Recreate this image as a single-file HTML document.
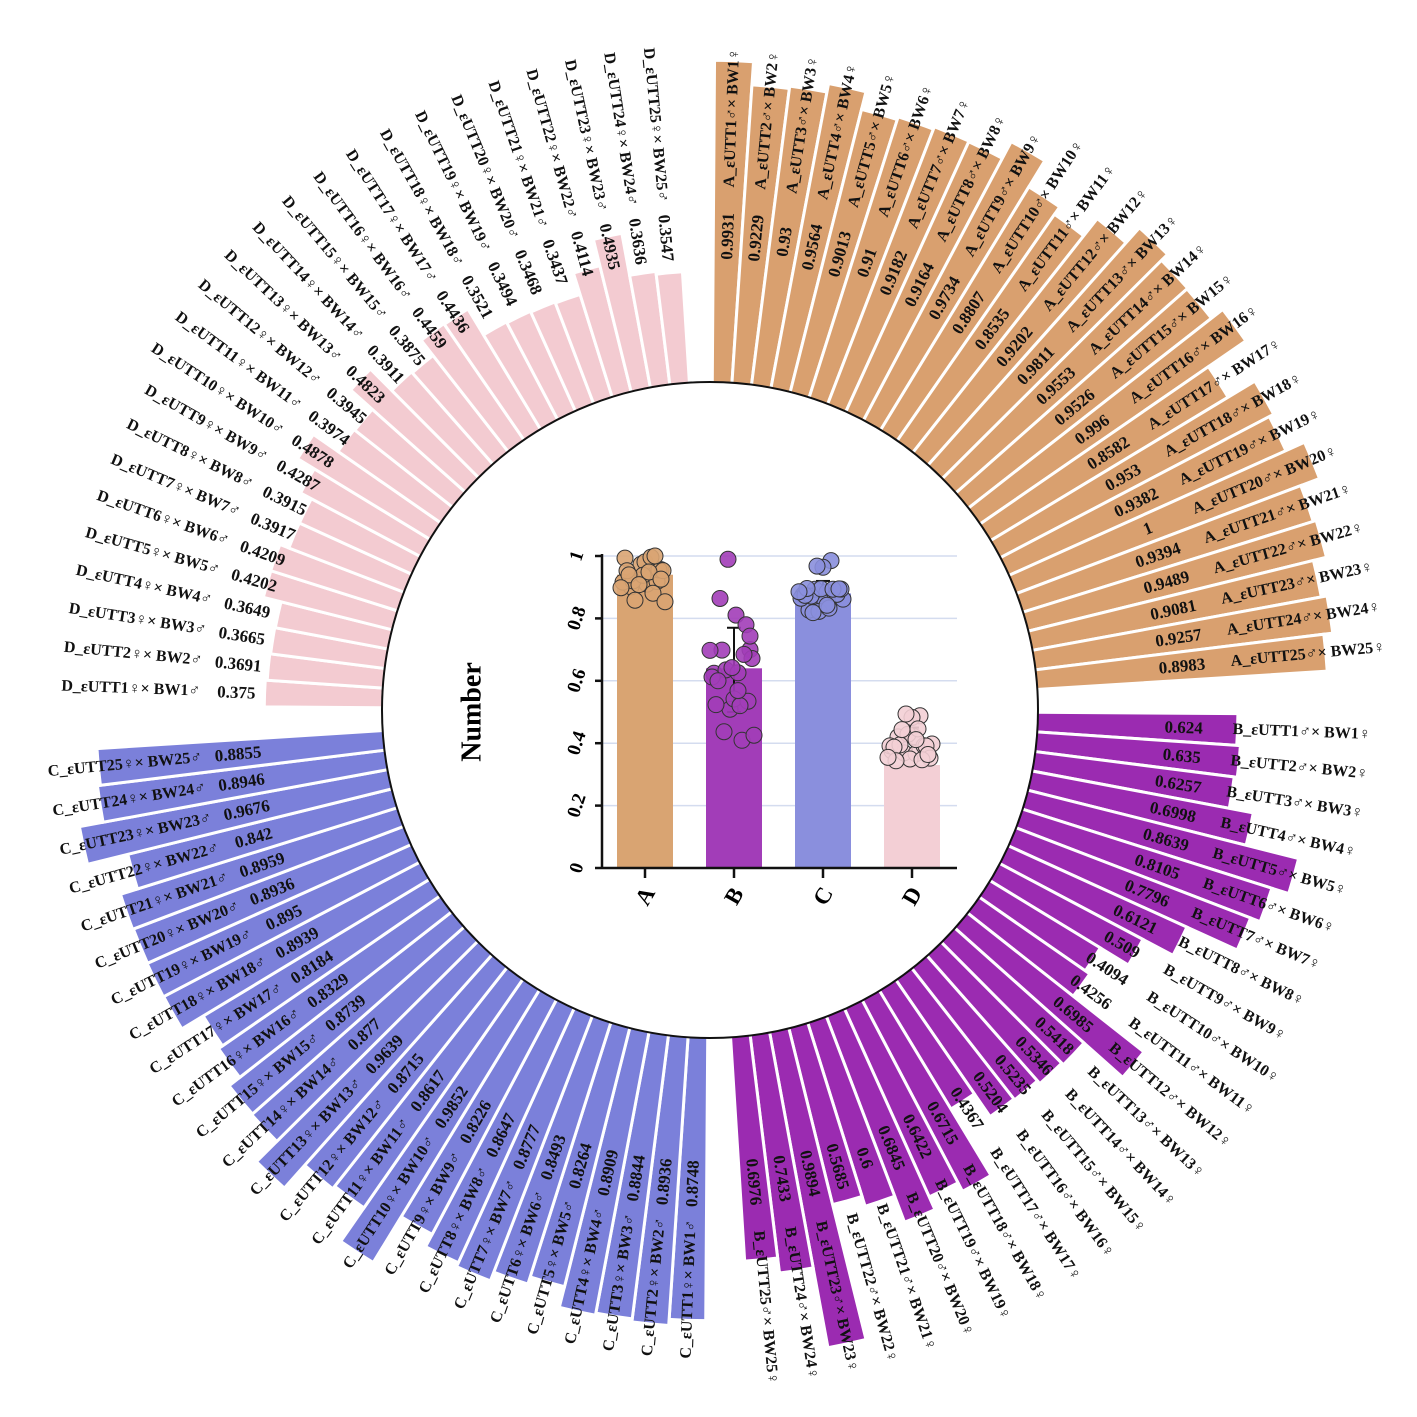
<!DOCTYPE html>
<html><head><meta charset="utf-8"><style>
html,body{margin:0;padding:0;background:#fff;}
svg{display:block;font-family:"Liberation Serif",serif;}
</style></head><body>
<svg id="chart" width="1417" height="1417" viewBox="0 0 1417 1417" xmlns="http://www.w3.org/2000/svg">
<g id="rings"></g>
<circle cx="710" cy="710" r="328" fill="#fff" stroke="#111" stroke-width="2"/>
<g id="inner"></g>
</svg>
<script>
const groups = ["A","B","C","D"];
const valuesA = [0.9931,0.9229,0.93,0.9564,0.9013,0.91,0.9182,0.9164,0.9734,0.8807,0.8535,0.9202,0.9811,0.9553,0.9526,0.996,0.8582,0.953,0.9382,1,0.9394,0.9489,0.9081,0.9257,0.8983];
const valuesB = [0.624,0.635,0.6257,0.6998,0.8639,0.8105,0.7796,0.6121,0.509,0.4094,0.4256,0.6985,0.5418,0.5346,0.5235,0.5204,0.4367,0.6715,0.6422,0.6845,0.6,0.5685,0.9894,0.7433,0.6976];
const valuesC = [0.8748,0.8936,0.8844,0.8909,0.8264,0.8493,0.8777,0.8647,0.8226,0.9852,0.8617,0.8715,0.9639,0.877,0.8739,0.8329,0.8184,0.8939,0.895,0.8936,0.8959,0.842,0.9676,0.8946,0.8855];
const valuesD = [0.375,0.3691,0.3665,0.3649,0.4202,0.4209,0.3917,0.3915,0.4287,0.4878,0.3974,0.3945,0.4823,0.3911,0.3875,0.4459,0.4436,0.3521,0.3494,0.3468,0.3437,0.4114,0.4935,0.3636,0.3547];
const groupMeans = [0.94,0.64,0.88,0.33];
const errLow = [0.92,0.50,0.84,0.36];
const errHigh = [0.97,0.77,0.92,0.45];
const yTicks = [0,0.2,0.4,0.6,0.8,1];
const yTickLabels = ["0","0.2","0.4","0.6","0.8","1"];

const NS="http://www.w3.org/2000/svg";
const CX=710, CY=710, R0=322, K=330;
const colors=["#D9A06F","#9B2BB1","#7B80DA","#F3CBD1"];
const innerColors=["#D9A472","#A23DB8","#8A8FDD","#F3CFD5"];
const allVals=[valuesA,valuesB,valuesC,valuesD];
function mk(tag,attrs,parent){const e=document.createElementNS(NS,tag);for(const k in attrs)e.setAttribute(k,attrs[k]);parent.appendChild(e);return e;}
function rScale(v){return R0+K*v;}
function pt(r,deg){const a=deg*Math.PI/180;return [CX+r*Math.sin(a),CY-r*Math.cos(a)];}
const rings=document.getElementById('rings');
const STEP=3.44;
allVals.forEach((vals,g)=>{
  vals.forEach((v,i)=>{
    const a0=g*90+0.4+i*STEP, a1=a0+STEP, am=(a0+a1)/2;
    const r1=rScale(v), rin=290;
    const p1=pt(rin,a0),p2=pt(r1,a0),p3=pt(r1,a1),p4=pt(rin,a1);
    const path=mk('path',{d:`M${p1[0]},${p1[1]} L${p2[0]},${p2[1]} A${r1},${r1} 0 0 1 ${p3[0]},${p3[1]} L${p4[0]},${p4[1]} A${rin},${rin} 0 0 0 ${p1[0]},${p1[1]} Z`,fill:colors[g],stroke:'#fff','stroke-width':3},rings);
    
    
    const right = am<180;
    const rot = right? am-90 : am+90;
    const pv=pt(474,am);
    const tv=mk('text',{x:pv[0],y:pv[1],transform:`rotate(${rot} ${pv[0]} ${pv[1]})`,'text-anchor':'middle','dominant-baseline':'central','font-size':17,'font-weight':'bold',fill:'#111'},rings);
    tv.textContent=String(v);
    
    
    const pn=pt(right?523:510,am);
    const male=(g<2);
    const name=groups[g]+'_εUTT'+(i+1)+(male?'♂':'♀')+'× BW'+(i+1)+(male?'♀':'♂');
    const tn=mk('text',{x:pn[0],y:pn[1],transform:`rotate(${rot} ${pn[0]} ${pn[1]})`,'text-anchor':right?'start':'end','dominant-baseline':'central','font-size':16,'font-weight':'bold',fill:'#111'},rings);
    tn.textContent=name;
    
    
  });
});
const inner=document.getElementById('inner');
const X0=602, XE=957, Y0=868, Y1=556;
function yS(v){return Y0-(Y0-Y1)*v;}
const barX=[617,706,795,884], BW=56;
yTicks.forEach((t,i)=>{
  if(t>0){const gl=mk('line',{x1:X0,x2:XE,y1:yS(t),y2:yS(t),stroke:'#d4dcef','stroke-width':1.5},inner);
  }
  mk('line',{x1:X0-7,x2:X0,y1:yS(t),y2:yS(t),stroke:'#111','stroke-width':2.5},inner);
  const tx=mk('text',{x:577,y:yS(t),transform:`rotate(-72 577 ${yS(t)})`,'text-anchor':'middle','dominant-baseline':'central','font-size':19,'font-weight':'bold'},inner);
  tx.textContent=yTickLabels[i];
  
});
const yt=mk('text',{x:472,y:712,transform:'rotate(-90 472 712)','text-anchor':'middle','dominant-baseline':'central','font-size':28,'font-weight':'bold'},inner);
yt.textContent='Number';

const jitter=[-20,-8,4,16,-14,2,12,-22,-4,8,20,-12,0,14,-18,6,-10,18,-2,10,-16,4,-6,16,-24];
groupMeans.forEach((m,g)=>{
  const b=mk('rect',{x:barX[g],y:yS(m),width:BW,height:Y0-yS(m),fill:innerColors[g]},inner);
  
  const cx=barX[g]+BW/2;
  mk('line',{x1:cx,x2:cx,y1:yS(errLow[g]),y2:yS(errHigh[g]),stroke:'#111','stroke-width':2},inner);
  mk('line',{x1:cx-7,x2:cx+7,y1:yS(errHigh[g]),y2:yS(errHigh[g]),stroke:'#111','stroke-width':2},inner);
  mk('line',{x1:cx-7,x2:cx+7,y1:yS(errLow[g]),y2:yS(errLow[g]),stroke:'#111','stroke-width':2},inner);
  allVals[g].forEach((v,i)=>{
    const c=mk('circle',{cx:cx+jitter[i],cy:yS(v),r:8,fill:innerColors[g],stroke:'#333','stroke-width':1,'fill-opacity':0.9},inner);
    
  });
  mk('line',{x1:cx,x2:cx,y1:Y0,y2:Y0+10,stroke:'#111','stroke-width':2.5},inner);
  const xl=mk('text',{x:cx,y:Y0+28,transform:`rotate(-60 ${cx} ${Y0+28})`,'text-anchor':'middle','dominant-baseline':'central','font-size':23,'font-weight':'bold'},inner);
  xl.textContent=groups[g];
  
});
mk('line',{x1:X0,x2:X0,y1:Y1-2,y2:Y0,stroke:'#111','stroke-width':2.5},inner);
mk('line',{x1:X0,x2:XE,y1:Y0,y2:Y0,stroke:'#111','stroke-width':2.5},inner);
</script>
</body></html>
